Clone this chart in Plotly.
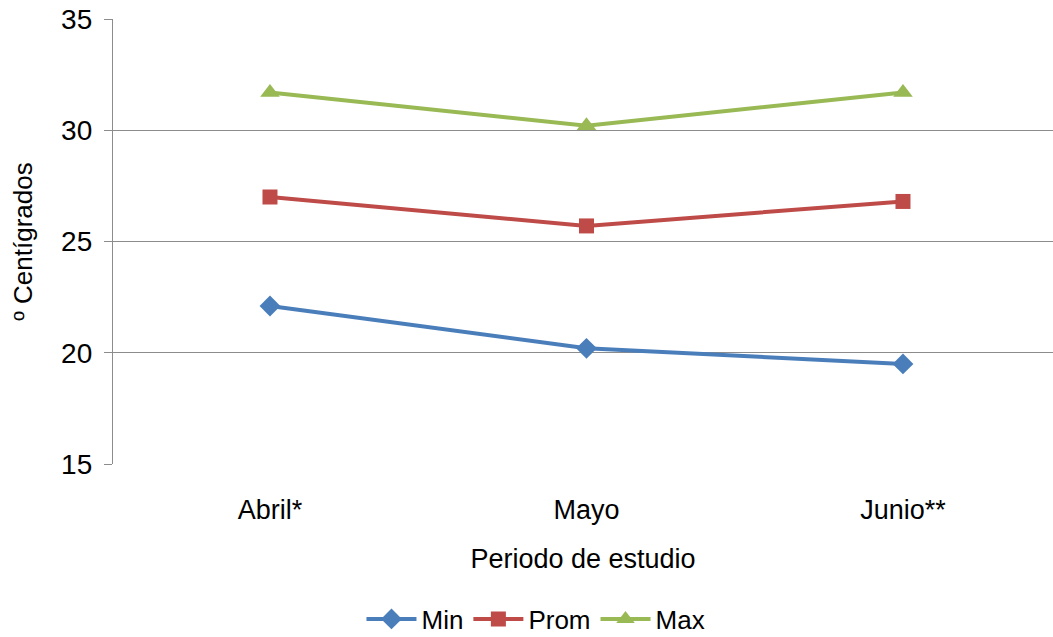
import plotly.graph_objects as go

categories = ["Abril*", "Mayo", "Junio**"]
min_vals = [22.1, 20.2, 19.5]
prom_vals = [27.0, 25.7, 26.8]
max_vals = [31.7, 30.2, 31.7]
y_ticks = [15, 20, 25, 30, 35]

FONT = "Liberation Sans, Arial, sans-serif"

fig = go.Figure()
series = [
    ("Min", min_vals, "#4A7EBB", "diamond", 16),
    ("Prom", prom_vals, "#BE4B48", "square", 15),
    ("Max", max_vals, "#98B954", "triangle-up", 17),
]
for name, vals, color, sym, size in series:
    fig.add_trace(go.Scatter(
        x=list(range(len(categories))), y=vals, name=name, mode="lines+markers",
        line=dict(color=color, width=4),
        marker=dict(symbol=sym, size=size, color=color, line=dict(width=0)),
    ))

fig.update_layout(
    width=1053, height=637,
    margin=dict(l=113, r=0, t=19, b=173, autoexpand=False),
    paper_bgcolor="white", plot_bgcolor="white",
    font=dict(family=FONT, color="black"),
    showlegend=True,
    legend=dict(orientation="h", xref="container", x=0.509, xanchor="center",
                yref="container", y=1 - 619 / 637, yanchor="middle",
                font=dict(size=26, family=FONT), itemwidth=50, traceorder="normal"),
)
fig.update_xaxes(
    range=[-0.496, 2.474], tickmode="array", tickvals=[0, 1, 2], ticktext=categories,
    showgrid=False, zeroline=False, showline=False, ticks="", automargin=False,
    tickfont=dict(size=27, family=FONT), ticklabelstandoff=27,
    title=dict(text="Periodo de estudio", font=dict(size=27, family=FONT), standoff=25),
)
fig.update_yaxes(
    range=[15, 35], tickmode="array", tickvals=y_ticks, automargin=False,
    showgrid=True, gridcolor="#8C8C8C", gridwidth=1.3,
    zeroline=False, showline=True, linecolor="#8C8C8C", linewidth=1.3,
    ticks="outside", ticklen=8, tickcolor="#8C8C8C", tickwidth=1.3,
    tickfont=dict(size=28, family=FONT), ticklabelstandoff=6,
    title=dict(text="º Centígrados", font=dict(size=26, family=FONT), standoff=20),
)
fig.write_html("out.html")
